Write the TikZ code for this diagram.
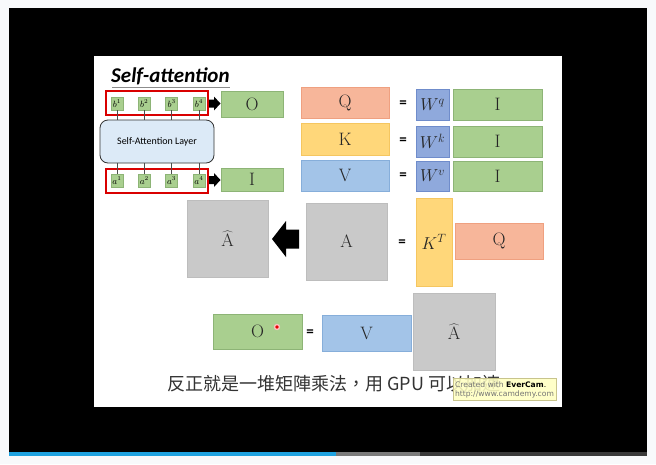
\documentclass[tikz,border=0pt]{standalone}
\usepackage{fontspec}
\setsansfont{Carlito}
\newfontfamily\cjk{Noto Sans CJK TC}
\newfontfamily\wmfont{DejaVu Sans}
\usetikzlibrary{calc}
\definecolor{frame}{HTML}{F8F9FB}
\definecolor{barblue}{HTML}{1EA2E0}
\definecolor{bargray}{HTML}{7A7A7A}
\definecolor{bardark}{HTML}{3A3A3A}
\definecolor{gfill}{HTML}{A9CF8F}
\definecolor{gline}{HTML}{8DB476}
\definecolor{qfill}{HTML}{F7B69A}
\definecolor{qline}{HTML}{EFA080}
\definecolor{kfill}{HTML}{FFD77A}
\definecolor{kline}{HTML}{F5C660}
\definecolor{vfill}{HTML}{A3C4E8}
\definecolor{vline}{HTML}{86AEDA}
\definecolor{wfill}{HTML}{8FA9DC}
\definecolor{wline}{HTML}{6F8CCB}
\definecolor{afill}{HTML}{C9C9C9}
\definecolor{aline}{HTML}{BDBDBD}
\definecolor{layerfill}{HTML}{DCEAF7}
\definecolor{wmfill}{HTML}{FFFFC2}
\definecolor{wmline}{HTML}{C8C48C}
\tikzset{
  mat/.style={draw, line width=0.6pt, inner sep=0pt, text=black!85, font=\fontsize{18}{20}\selectfont},
  gbox/.style={mat, fill=gfill, draw=gline},
  qbox/.style={mat, fill=qfill, draw=qline},
  kbox/.style={mat, fill=kfill, draw=kline},
  vbox/.style={mat, fill=vfill, draw=vline},
  wbox/.style={mat, fill=wfill, draw=wline},
  abox/.style={mat, fill=afill, draw=aline},
  tok/.style={draw=gline, fill=gfill, line width=0.4pt, inner sep=0pt,
    minimum width=12, minimum height=13, font=\fontsize{9}{10}\selectfont},
  seq/.style={draw=red!85!black, line width=1.4pt, inner sep=0pt,
    minimum width=102, minimum height=24},
  eqsign/.style={inner sep=0pt, font=\sffamily\bfseries\fontsize{15}{16}\selectfont},
  link/.style={draw=black!70, line width=0.5pt},
}
\begin{document}
\begin{tikzpicture}[x=1pt, y=-1pt]
  % frame, video area and progress bar
  \fill[frame] (0,0) rectangle (656,464);
  \fill[black] (9,8) rectangle (647,452);
  \fill[bardark] (9,452) rectangle (647,455.5);
  \fill[bargray] (9,452) rectangle (420,455.5);
  \fill[barblue] (9,452) rectangle (336,455.5);
  \useasboundingbox (0,0) rectangle (656,464);
  % slide
  \fill[white] (94,56) rectangle (562,407);

  % title
  \node[anchor=base west, inner sep=0pt, font=\sffamily\bfseries\itshape\fontsize{21}{24}\selectfont]
    (title) at (111,82) {Self-attention};
  \draw[black!45, line width=0.8pt] (112,87.5) -- (230,87.5);

  % self-attention layer with its inputs and outputs
  \node[draw=black!80, fill=layerfill, rounded corners=8pt, line width=0.8pt,
    minimum width=114, minimum height=43, inner sep=0pt,
    font=\sffamily\fontsize{10}{11}\selectfont] (L) at (157,141.5) {Self-Attention Layer};
  \node[seq] (outseq) at (157,103) {};
  \node[seq] (inseq) at (157,181) {};
  \foreach \i/\x in {1/117,2/144.3,3/171.6,4/199} {
    \node[tok] (b\i) at (\x,103.5) {$b^{\i}$};
    \node[tok] (a\i) at (\x,180.5) {$a^{\i}$};
    \draw[link] (b\i.south) -- (b\i.south |- L.north);
    \draw[link] (a\i.north) -- (a\i.north |- L.south);
  }
  \node[gbox, minimum width=62, minimum height=26] (O1) at (252,104) {O};
  \node[gbox, minimum width=62, minimum height=23] (I0) at (252,179.5) {I};
  % block arrows from the sequences to the matrices
  \foreach \y in {103.5,180} {
    \fill[black] (209,\y-4) -- (214,\y-4) -- (214,\y-7) -- (220.5,\y) -- (214,\y+7)
      -- (214,\y+4) -- (209,\y+4) -- cycle;
  }

  % Q, K, V
  \node[qbox, minimum width=88, minimum height=31] (Q) at (345,102.5) {Q};
  \node[kbox, minimum width=88, minimum height=32] (K) at (345,139) {K};
  \node[vbox, minimum width=88, minimum height=31] (V) at (345,175.5) {V};
  \node[eqsign] (e1) at (403,104) {=};
  \node[eqsign] (e2) at (403,141) {=};
  \node[eqsign] (e3) at (403,176) {=};
  \node[wbox, minimum width=33, minimum height=31] (Wq) at (432.5,104.5) {$W^q$};
  \node[wbox, minimum width=33, minimum height=31] (Wk) at (432.5,141.5) {$W^k$};
  \node[wbox, minimum width=33, minimum height=30] (Wv) at (432.5,176) {$W^v$};
  \node[gbox, minimum width=89, minimum height=31] (I1) at (497.5,104.5) {I};
  \node[gbox, minimum width=89, minimum height=31] (I2) at (497.5,141.5) {I};
  \node[gbox, minimum width=89, minimum height=30] (I3) at (497.5,176) {I};

  % attention matrix
  \node[abox, minimum width=81, minimum height=77] (Ah1) at (227.5,238.5) {$\widehat{\mathrm{A}}$};
  \fill[black] (299,229.5) -- (286,229.5) -- (286,221) -- (272,239) -- (286,257)
    -- (286,248.5) -- (299,248.5) -- cycle;
  \node[abox, minimum width=81, minimum height=77] (A) at (346.5,241.5) {A};
  \node[eqsign] (e4) at (402,243) {=};
  \node[kbox, minimum width=36, minimum height=88] (KT) at (434,242) {$K^T$};
  \node[qbox, minimum width=88, minimum height=36] (Q2) at (499,241) {Q};

  % output
  \node[gbox, minimum width=89, minimum height=35] (O2) at (257.5,331.5) {O};
  \node[eqsign] (e5) at (310,333) {=};
  \node[vbox, minimum width=89, minimum height=36] (V2) at (366.5,333) {V};
  \node[abox, minimum width=82, minimum height=77] (Ah2) at (454,331.5) {$\widehat{\mathrm{A}}$};
  % pointer dot
  \fill[red!25] (277,327) circle (3.2);
  \fill[red!90!black] (277,327) circle (1.8);

  % caption
  \node[anchor=west, inner sep=0pt, font=\cjk\fontsize{18}{20}\selectfont, text=black!80]
    (cap) at (167,384) {反正就是一堆矩陣乘法，用 GPU 可以加速};

  % recorder watermark
  \node[draw=wmline, fill=wmfill, fill opacity=0.88, text opacity=1, line width=0.6pt,
    minimum width=103, minimum height=22, inner sep=0pt, align=left,
    font=\wmfont\fontsize{7.6}{9}\selectfont] (wm) at (504.5,389.5)
    {\textcolor{black!55}{Created with} \textbf{EverCam}.\\\textcolor{black!55}{http://www.camdemy.com}};
\end{tikzpicture}
\end{document}
